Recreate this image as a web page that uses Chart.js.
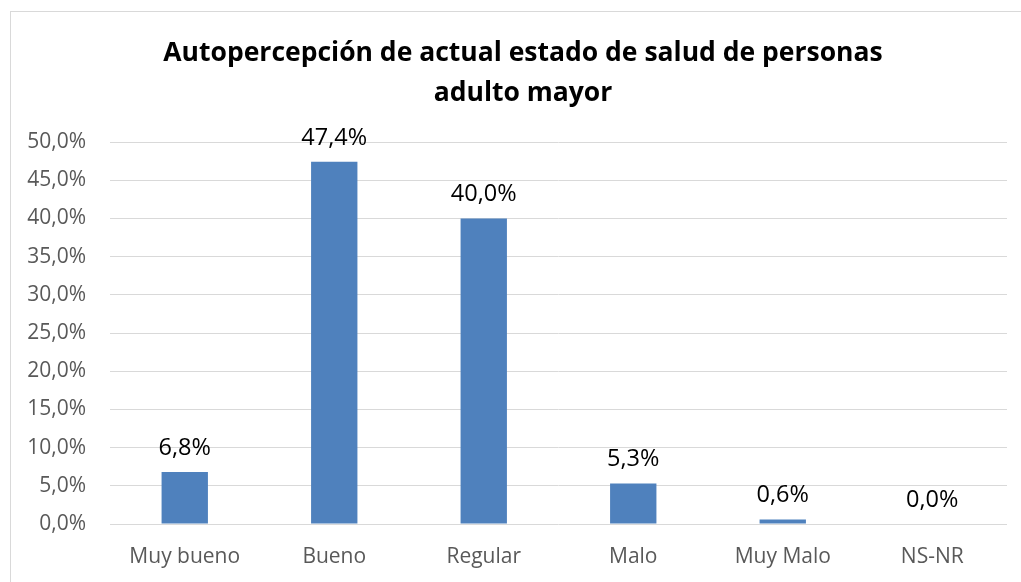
<!DOCTYPE html>
<html>
<head>
<meta charset="utf-8">
<script src="https://cdn.jsdelivr.net/npm/chart.js@4/dist/chart.umd.min.js"></script>
<style>
  html, body { margin: 0; padding: 0; background: #fff; }
  #wrap { position: relative; width: 1021px; height: 582px; overflow: hidden; }
  #frame { position: absolute; left: 10px; top: 11px; width: 1030px; height: 600px; border: 1px solid #d9d9d9; box-sizing: border-box; }
  canvas { position: absolute; left: 0; top: 0; }
</style>
</head>
<body>
<div id="wrap">
  <div id="frame"></div>
  <canvas id="c" width="1021" height="582"></canvas>
</div>
<script>
const titleLines = ["Autopercepción de actual estado de salud de personas", "adulto mayor"];
const categories = ["Muy bueno", "Bueno", "Regular", "Malo", "Muy Malo", "NS-NR"];
const values = [6.8, 47.4, 40.0, 5.3, 0.6, 0.0];
const yTicks = [0, 5, 10, 15, 20, 25, 30, 35, 40, 45, 50];

const fmt = v => v.toFixed(1).replace('.', ',') + '%';

const dataLabels = {
  id: 'dataLabels',
  afterDatasetsDraw(chart) {
    const ctx = chart.ctx;
    const meta = chart.getDatasetMeta(0);
    ctx.save();
    ctx.font = '23.5px "Open Sans"';
    ctx.fillStyle = '#000000';
    ctx.textAlign = 'center';
    ctx.textBaseline = 'middle';
    meta.data.forEach((el, i) => {
      ctx.fillText(fmt(values[i]), el.x, el.y - 24);
    });
    ctx.restore();
  }
};

// centre the title over the frame (x ≈ 523) rather than the canvas
const titleShift = {
  id: 'titleShift',
  afterLayout(chart) {
    const t = chart.titleBlock;
    if (t) { t.left = 40; t.right = 1006; t.width = 966; }
  }
};

new Chart(document.getElementById('c'), {
  type: 'bar',
  data: {
    labels: categories,
    datasets: [{
      data: values,
      backgroundColor: '#4F81BD',
      borderWidth: 0,
      barPercentage: 0.62,
      categoryPercentage: 0.5
    }]
  },
  options: {
    responsive: false,
    animation: false,
    layout: { padding: { left: 0, right: 14, top: 0, bottom: 0 } },
    plugins: {
      legend: { display: false },
      tooltip: { enabled: false },
      title: {
        display: true,
        text: titleLines,
        color: '#000000',
        font: { family: '"Open Sans"', size: 26.5, weight: 'bold', lineHeight: '40px' },
        padding: { top: 33, bottom: 29 }
      }
    },
    scales: {
      x: {
        grid: { display: false, drawTicks: false },
        border: { display: false },
        ticks: { color: '#595959', font: { family: '"Open Sans"', size: 21 }, padding: 20 },
        afterFit: s => { s.height = 58; }
      },
      y: {
        min: 0,
        max: 50,
        afterBuildTicks: s => { s.ticks = yTicks.map(v => ({ value: v })); },
        grid: { color: '#d9d9d9', lineWidth: 1, drawTicks: false },
        border: { display: false },
        ticks: {
          color: '#595959',
          font: { family: '"Open Sans"', size: 21 },
          padding: 24,
          callback: v => fmt(v)
        },
        afterFit: s => { s.width = 110; }
      }
    }
  },
  plugins: [dataLabels, titleShift]
});
</script>
</body>
</html>
